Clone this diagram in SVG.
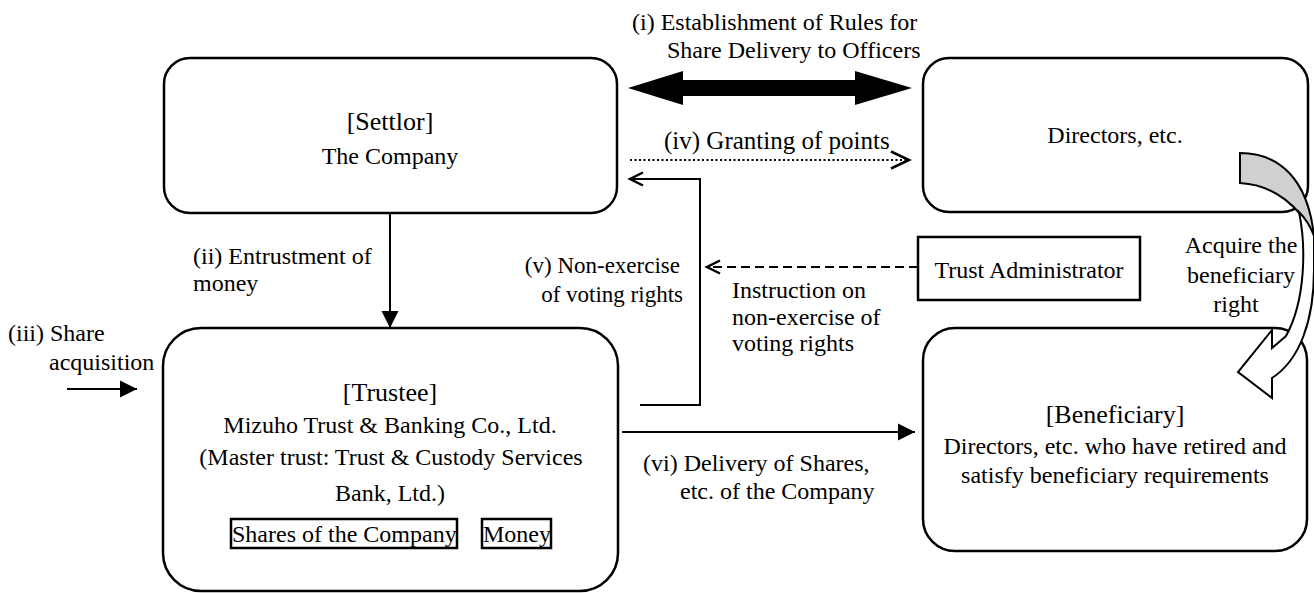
<svg xmlns="http://www.w3.org/2000/svg" width="1314" height="593" viewBox="0 0 1314 593">
<style>
.box{fill:#fff;stroke:#000;stroke-width:2.5}
.t{font-family:"Liberation Serif","Times New Roman",serif;font-size:24px;fill:#000}
.h{font-size:26px}
.c{text-anchor:middle}
.ln{fill:none;stroke:#000;stroke-width:2}
</style>
<defs>
<marker id="fa" markerUnits="userSpaceOnUse" markerWidth="18" markerHeight="18" refX="17" refY="8.5" orient="auto" overflow="visible"><path d="M0,0 L17,8.5 L0,17 z" fill="#000"/></marker>
<marker id="oa" markerUnits="userSpaceOnUse" markerWidth="20" markerHeight="20" refX="18" refY="8.5" orient="auto" overflow="visible"><path d="M0,0 L18,8.5 L0,17" fill="none" stroke="#000" stroke-width="2.5"/></marker>
<marker id="sa" markerUnits="userSpaceOnUse" markerWidth="14" markerHeight="14" refX="13" refY="6.5" orient="auto" overflow="visible"><path d="M0,0 L13,6.5 L0,13" fill="none" stroke="#000" stroke-width="2.5"/></marker>
</defs>

<g id="settlor">
<rect class="box" x="164" y="58" width="453" height="155" rx="26"/>
<text class="t h c" x="390" y="130">[Settlor]</text>
<text class="t c" x="390" y="164">The Company</text>
</g>

<g id="directors">
<rect class="box" x="923" y="58" width="385" height="154" rx="26"/>
<text class="t c" x="1115" y="143">Directors, etc.</text>
</g>

<g id="trustee">
<rect class="box" x="163" y="328" width="455" height="263" rx="38"/>
<text class="t h c" x="390" y="401">[Trustee]</text>
<text class="t c" x="390" y="433">Mizuho Trust &amp; Banking Co., Ltd.</text>
<text class="t c" x="391" y="465">(Master trust: Trust &amp; Custody Services</text>
<text class="t c" x="390" y="501">Bank, Ltd.)</text>
<rect x="231" y="519" width="226" height="29" fill="none" stroke="#000" stroke-width="2.5"/>
<text class="t" x="232" y="542">Shares of the Company</text>
<rect x="482" y="519" width="69" height="29" fill="none" stroke="#000" stroke-width="2.5"/>
<text class="t" x="483" y="542">Money</text>
</g>

<g id="beneficiary">
<rect class="box" x="923" y="328" width="384" height="223" rx="32"/>
<text class="t h c" x="1115" y="423">[Beneficiary]</text>
<text class="t c" x="1115" y="454">Directors, etc. who have retired and</text>
<text class="t c" x="1115" y="483">satisfy beneficiary requirements</text>
</g>

<g id="trust-administrator">
<rect x="918" y="237" width="222" height="63" fill="#fff" stroke="#000" stroke-width="2.5"/>
<text class="t c" x="1029" y="278">Trust Administrator</text>
</g>

<g id="connectors">
<polygon points="628,88 683,71 683,80 855,80 855,71 912,88 855,105 855,96 683,96 683,105" fill="#000"/>
<line class="ln" x1="630" y1="160" x2="909" y2="160" stroke-dasharray="2 2.5" marker-end="url(#oa)"/>
<polyline class="ln" points="640,405 700,405 700,179 630,179" marker-end="url(#sa)"/>
<line class="ln" x1="918" y1="267" x2="707" y2="267" stroke-dasharray="9 5" marker-end="url(#sa)"/>
<line class="ln" x1="390" y1="213" x2="390" y2="328" marker-end="url(#fa)"/>
<line class="ln" x1="67" y1="389" x2="137" y2="389" marker-end="url(#fa)"/>
<line class="ln" x1="622" y1="432" x2="915" y2="432" marker-end="url(#fa)"/>
<path d="M1240,153 C1280,153 1308,180 1314,236 C1300,207 1275,185 1240,183 Z" fill="#d0d0d0" stroke="#000" stroke-width="2"/>
<path d="M1299,212 C1306,245 1306,300 1286,336 L1272,348 L1272,330 L1238,372 L1272,398 L1272,378 C1300,360 1314,320 1314,270 L1314,236 C1310,225 1305,218 1299,212 Z" fill="#fff" stroke="#000" stroke-width="2"/>
</g>

<g id="labels">
<text class="t" x="632" y="30">(i) Establishment of Rules for</text>
<text class="t" x="667" y="58">Share Delivery to Officers</text>
<text class="t" x="664" y="149" style="font-size:25px">(iv) Granting of points</text>
<text class="t" x="193" y="264">(ii) Entrustment of</text>
<text class="t" x="193" y="291">money</text>
<text class="t" x="680" y="273" text-anchor="end" style="font-size:23px">(v) Non-exercise</text>
<text class="t" x="683" y="302" text-anchor="end" style="font-size:23px">of voting rights</text>
<text class="t" x="732" y="298">Instruction on</text>
<text class="t" x="732" y="325">non-exercise of</text>
<text class="t" x="732" y="351">voting rights</text>
<text class="t c" x="1241" y="253">Acquire the</text>
<text class="t c" x="1241" y="283">beneficiary</text>
<text class="t c" x="1236" y="312">right</text>
<text class="t" x="8" y="341">(iii) Share</text>
<text class="t" x="49" y="370">acquisition</text>
<text class="t" x="643" y="471">(vi) Delivery of Shares,</text>
<text class="t" x="680" y="499">etc. of the Company</text>
</g>
</svg>
